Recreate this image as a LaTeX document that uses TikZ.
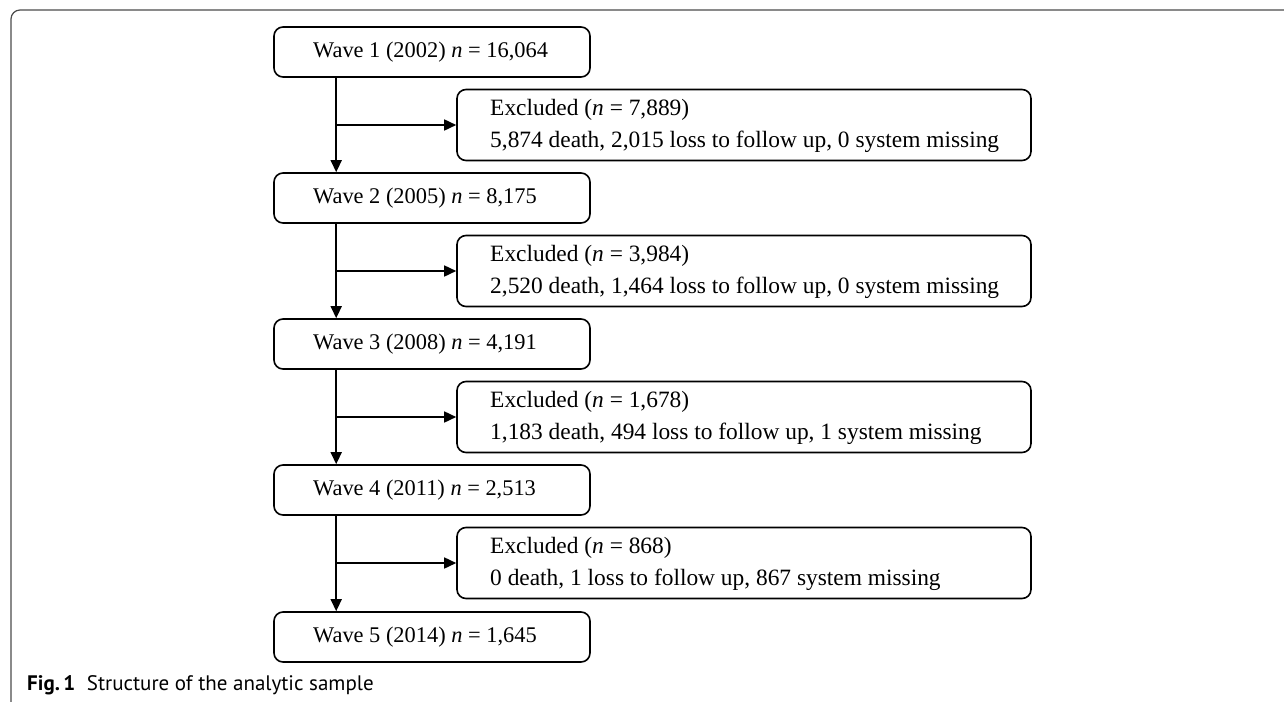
\documentclass[tikz,border=0pt]{standalone}
\usepackage{fontspec}
\setmainfont{Liberation Serif}
\newfontfamily\capfont{PT Sans}
\usetikzlibrary{arrows.meta}
\begin{document}
\begin{tikzpicture}[x=1pt,y=-1pt,
  wave/.style={draw, line width=1.6pt, rounded corners=9pt, minimum width=316pt, minimum height=50pt, inner sep=0pt},
  excl/.style={draw, line width=1.6pt, rounded corners=9pt, minimum width=574pt, minimum height=71pt, inner sep=0pt},
  txt/.style={font=\fontsize{22.4}{30}\selectfont, anchor=west, inner sep=0pt, align=left},
  etxt/.style={font=\fontsize{23.4}{32}\selectfont, anchor=west, inner sep=0pt, align=left},
  arr/.style={line width=1.6pt, -{Triangle[length=12pt,width=11pt]}}
]
\useasboundingbox (0,0) rectangle (1284,701);
\draw[line width=1.2pt, color=black!70, rounded corners=9pt] (11,703) -- (11,10) -- (1290,10);
% wave boxes
\node[wave] (w1) at (432,52) {};
\node[wave] (w2) at (432,198) {};
\node[wave] (w3) at (432,344) {};
\node[wave] (w4) at (432,490) {};
\node[wave] (w5) at (432,637) {};
\node[txt] (tw1) at (313,52) {Wave 1 (2002) \textit{n} = 16,064};
\node[txt] (tw2) at (313,198) {Wave 2 (2005) \textit{n} = 8,175};
\node[txt] (tw3) at (313,344) {Wave 3 (2008) \textit{n} = 4,191};
\node[txt] (tw4) at (313,490) {Wave 4 (2011) \textit{n} = 2,513};
\node[txt] (tw5) at (313,637) {Wave 5 (2014) \textit{n} = 1,645};
% excluded boxes
\node[excl] (e1) at (744,125) {};
\node[excl] (e2) at (744,271) {};
\node[excl] (e3) at (744,417) {};
\node[excl] (e4) at (744,563) {};
\node[etxt] (te1) at (490,126) {Excluded (\textit{n} = 7,889)\\5,874 death, 2,015 loss to follow up, 0 system missing};
\node[etxt] (te2) at (490,272) {Excluded (\textit{n} = 3,984)\\2,520 death, 1,464 loss to follow up, 0 system missing};
\node[etxt] (te3) at (490,418) {Excluded (\textit{n} = 1,678)\\1,183 death, 494 loss to follow up, 1 system missing};
\node[etxt] (te4) at (490,564) {Excluded (\textit{n} = 868)\\0 death, 1 loss to follow up, 867 system missing};
% connectors
\path (w1.south west) ++(63,0) coordinate (s1);
\path (w2.south west) ++(63,0) coordinate (s2);
\path (w3.south west) ++(63,0) coordinate (s3);
\path (w4.south west) ++(63,0) coordinate (s4);
\draw[arr] (s1) -- (s1 |- w2.north);
\draw[arr] (s2) -- (s2 |- w3.north);
\draw[arr] (s3) -- (s3 |- w4.north);
\draw[arr] (s4) -- (s4 |- w5.north);
\draw[arr] (s1 |- e1.west) -- (e1.west);
\draw[arr] (s2 |- e2.west) -- (e2.west);
\draw[arr] (s3 |- e3.west) -- (e3.west);
\draw[arr] (s4 |- e4.west) -- (e4.west);
% caption
\node[anchor=west, inner sep=0pt, font=\capfont\fontsize{21}{23}\selectfont] (cap) at (27,685) {\textbf{Fig.\,1}\hspace{0.55em}Structure of the analytic sample};
\end{tikzpicture}
\end{document}
